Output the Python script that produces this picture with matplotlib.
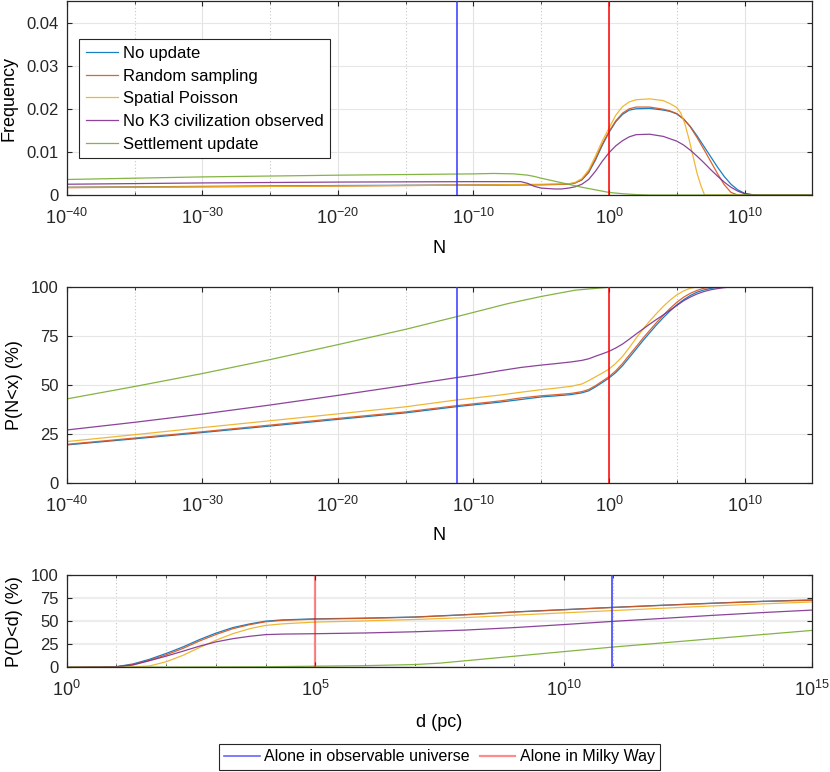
import numpy as np
import matplotlib
matplotlib.use("Agg")
import matplotlib.pyplot as plt
from matplotlib.lines import Line2D
from matplotlib.ticker import FixedLocator, LogFormatterSciNotation, NullFormatter

plt.rcParams["font.family"] = ["Liberation Sans", "DejaVu Sans"]
plt.rcParams["mathtext.default"] = "regular"
plt.rcParams["axes.unicode_minus"] = False

# MATLAB default line colours
C_NOUPD = "#0072BD"
C_RAND = "#D95319"
C_POIS = "#EDB120"
C_K3 = "#7E2F8E"
C_SETT = "#77AC30"

SERIES_NAMES = ["No update", "Random sampling", "Spatial Poisson",
                "No K3 civilization observed", "Settlement update"]

# vertical markers (log10)
ALONE_UNIVERSE_N = -11.2
ALONE_MILKYWAY_N = 0.0
ALONE_MILKYWAY_D = 5.0
ALONE_UNIVERSE_D = 10.97

# -----------------------------
# panel 1: frequency vs log10(N)
# -----------------------------
f_x_noupd = [-40, -30, -20, -10, -5, -3, -2.5, -2, -1.5, -1, -0.5, 0, 0.5, 1, 1.5, 2, 3, 4, 4.5,
             5, 5.5, 6, 6.5, 7, 7.5, 8, 8.5, 9, 9.5, 10, 10.5, 11, 15]
f_y_noupd = [0.0018, 0.0020, 0.0022, 0.0023, 0.0024, 0.0025, 0.0028, 0.0035, 0.0052, 0.0081,
             0.0115, 0.0145, 0.0170, 0.0187, 0.0197, 0.0200, 0.0201, 0.0197, 0.0194, 0.0188,
             0.0176, 0.0159, 0.0137, 0.0113, 0.0089, 0.0065, 0.0043, 0.0025, 0.0012, 0.0004,
             0.0001, 0.0, 0.0]

f_x_rand = [-40, -30, -20, -10, -5, -3, -2.5, -2, -1.5, -1, -0.5, 0, 0.5, 1, 1.5, 2, 3, 4, 4.5,
            5, 5.5, 6, 6.5, 7, 7.5, 8, 8.5, 9, 9.5, 15]
f_y_rand = [0.0017, 0.0019, 0.0021, 0.0023, 0.0024, 0.0025, 0.0028, 0.0036, 0.0054, 0.0084,
            0.0118, 0.0147, 0.0172, 0.0190, 0.0200, 0.0204, 0.0204, 0.0199, 0.0195, 0.0189,
            0.0177, 0.0158, 0.0133, 0.0106, 0.0078, 0.0050, 0.0024, 0.0006, 0.0, 0.0]

f_x_pois = [-40, -30, -20, -10, -5, -3, -2.5, -2, -1.5, -1, -0.5, 0, 0.5, 1, 1.5, 2, 3, 4, 4.5,
            5, 5.3, 5.6, 5.9, 6.2, 6.5, 6.8, 7.05, 15]
f_y_pois = [0.0018, 0.0019, 0.0021, 0.0023, 0.0025, 0.0026, 0.0029, 0.0038, 0.0058, 0.0090,
            0.0125, 0.0155, 0.0185, 0.0205, 0.0216, 0.0221, 0.0223, 0.0219, 0.0212, 0.0203,
            0.0190, 0.0165, 0.0130, 0.0090, 0.0050, 0.0020, 0.0, 0.0]

f_x_k3 = [-40, -30, -20, -10, -6.5, -6, -5.5, -5, -4.5, -4, -3.5, -3, -2.5, -2, -1.5, -1, -0.5,
          0, 0.5, 1, 1.5, 2, 3, 4, 5, 5.5, 6, 6.5, 7, 7.5, 8, 8.5, 9, 9.5, 10, 10.5, 11, 15]
f_y_k3 = [0.0025, 0.0028, 0.0030, 0.0031, 0.0031, 0.0027, 0.0020, 0.0016, 0.0015, 0.0014,
          0.0014, 0.0016, 0.0019, 0.0025, 0.0036, 0.0055, 0.0078, 0.0098, 0.0114, 0.0126,
          0.0135, 0.0140, 0.0141, 0.0136, 0.0125, 0.0116, 0.0104, 0.0090, 0.0075, 0.0059,
          0.0044, 0.0030, 0.0018, 0.0009, 0.0003, 0.0001, 0.0, 0.0]

f_x_sett = [-40, -30, -20, -10, -8.5, -7, -6, -5.5, -5, -4, -3, -2, -1, 0, 1, 2, 3, 15]
f_y_sett = [0.0036, 0.0042, 0.0046, 0.0049, 0.0050, 0.0049, 0.0046, 0.0043, 0.0039, 0.0032,
            0.0025, 0.0018, 0.0012, 0.0006, 0.0003, 0.0001, 0.0, 0.0]

# -----------------------------
# panel 2: P(N<x) in %
# -----------------------------
c_x_noupd = [-40, -35, -30, -25, -20, -15, -11.2, -8, -6.5, -5, -4, -2.8, -2, -1.5, -1, -0.5,
             0, 0.5, 1, 1.5, 2, 2.5, 3, 3.5, 4, 4.5, 5, 5.5, 6, 6.5, 7, 7.5, 8, 8.5, 9, 15]
c_y_noupd = [19.5, 22.6, 25.8, 29.1, 32.5, 35.8, 39.0, 41.3, 42.6, 43.9, 44.4, 45.1, 46.0, 47.0,
             49.0, 51.2, 53.5, 56.3, 59.8, 64.0, 68.2, 72.5, 76.5, 80.5, 84.2, 87.6, 90.7, 93.3,
             95.5, 97.2, 98.3, 99.1, 99.6, 99.9, 100, 100]

c_x_rand = [-40, -35, -30, -25, -20, -15, -11.2, -8, -6.5, -5, -4, -2.8, -2, -1.5, -1, -0.5,
            0, 0.5, 1, 1.5, 2, 2.5, 3, 3.5, 4, 4.5, 5, 5.5, 6, 6.5, 7, 7.5, 8, 15]
c_y_rand = [19.8, 23.0, 26.2, 29.6, 33.0, 36.3, 39.5, 41.9, 43.4, 44.5, 45.0, 45.7, 46.6, 47.7,
            49.6, 51.9, 54.2, 57.2, 60.9, 65.2, 69.4, 73.7, 77.7, 81.7, 85.4, 88.9, 92.0, 94.6,
            96.6, 98.1, 99.2, 99.7, 100, 100]

c_x_pois = [-40, -35, -30, -25, -20, -15, -11.2, -8, -6.5, -5, -4, -2.8, -2, -1.5, -1, -0.5,
            0, 0.5, 1, 1.5, 2, 2.5, 3, 3.5, 4, 4.5, 5, 5.5, 6, 6.5, 7, 15]
c_y_pois = [21.2, 24.7, 28.3, 31.8, 35.3, 38.9, 42.4, 44.9, 46.3, 47.6, 48.3, 49.3, 50.5, 52.2,
            54.1, 56.0, 58.1, 61.0, 64.5, 69.0, 73.8, 78.3, 82.5, 86.3, 89.9, 93.1, 95.8, 97.8,
            99.2, 99.9, 100, 100]

c_x_k3 = [-40, -35, -30, -25, -20, -15, -11.2, -10, -8, -6.5, -5, -4, -2.8, -2, -1.5, -1, -0.5,
          0, 0.5, 1, 1.5, 2, 2.5, 3, 3.5, 4, 4.5, 5, 5.5, 6, 6.5, 7, 7.5, 8, 8.5, 9, 9.5, 15]
c_y_k3 = [27.1, 31.0, 35.2, 39.8, 44.7, 49.8, 53.8, 55.0, 57.3, 58.9, 60.1, 60.8, 61.7, 62.5,
          63.3, 64.6, 65.8, 67.1, 68.8, 70.8, 73.3, 75.9, 78.4, 80.9, 83.3, 85.6, 88.0, 90.4,
          92.8, 94.7, 96.3, 97.5, 98.4, 99.0, 99.5, 99.8, 100, 100]

c_x_sett = [-40, -35, -30, -25, -20, -15, -11.2, -10, -7.5, -5, -2.5, 0, 2, 15]
c_y_sett = [42.9, 49.2, 55.8, 62.9, 70.5, 78.3, 84.8, 86.9, 91.3, 95.0, 98.2, 99.7, 100, 100]

# -----------------------------
# panel 3: P(D<d) in %, log10(d / pc)
# -----------------------------
d_x = [0, 0.66, 1.0, 1.33, 1.66, 2.0, 2.34, 2.67, 3.0, 3.34, 3.68, 4.0, 4.35, 5, 6, 7, 8, 9, 10,
       11, 12, 13, 14, 15]
d_y_noupd = [0, 0.4, 0.7, 3.6, 8.6, 15.0, 22.1, 30.0, 37.0, 43.0, 47.0, 50.0, 51.4, 52.5, 53.3,
             54.5, 57.0, 60.0, 62.5, 65.0, 67.3, 69.5, 71.5, 73.0]
d_y_rand = [0, 0.3, 0.5, 3.0, 7.5, 13.5, 20.5, 28.5, 35.5, 41.8, 46.2, 49.3, 50.9, 52.2, 53.0,
            54.3, 56.8, 59.8, 62.3, 64.8, 67.1, 69.3, 71.3, 72.6]
d_y_pois = [0, 0, 0, 0.4, 1.4, 6.0, 13.0, 21.4, 29.3, 36.4, 41.8, 45.4, 47.1, 49.0, 50.3, 51.8,
            53.8, 56.5, 59.0, 61.5, 64.0, 66.5, 68.7, 70.8]
d_y_k3 = [0, 0.3, 0.6, 2.5, 7.1, 12.1, 17.5, 22.9, 27.5, 31.0, 33.6, 35.4, 36.0, 36.4, 37.2,
          38.5, 40.3, 43.0, 46.3, 49.8, 53.0, 56.3, 59.3, 62.0]
d_x_sett = [0, 2, 4, 5, 6, 7, 7.5, 8, 8.5, 9, 10, 11, 12, 13, 14, 15]
d_y_sett = [0, 0.2, 0.6, 1.2, 1.8, 3.0, 4.5, 7.0, 9.5, 12.0, 17.0, 22.0, 26.5, 31.0, 35.5, 40.0]

FREQ_TICKS = [0, 0.01, 0.02, 0.03, 0.04]
FREQ_LABELS = ["0", "0.01", "0.02", "0.03", "0.04"]
PCT_TICKS = [0, 25, 50, 75, 100]
PCT_LABELS = ["0", "25", "50", "75", "100"]

AX_COLOR = "#262626"
BLUE_V = "#3535ff"
RED_V = "#ff0000"


def style_axes(ax, major, minor, ygrid_lw=0.8, ygrid_col="#e6e6e6"):
    ax.set_xscale("log")
    ax.xaxis.set_major_locator(FixedLocator([10.0 ** e for e in major]))
    ax.xaxis.set_minor_locator(FixedLocator([10.0 ** e for e in minor]))
    ax.xaxis.set_major_formatter(LogFormatterSciNotation())
    ax.xaxis.set_minor_formatter(NullFormatter())
    ax.grid(True, which="major", axis="x", color="#e3e3e3", linewidth=0.8)
    ax.grid(True, which="minor", axis="x", color="#c8c8c8", linewidth=0.8, linestyle=(0, (1, 2)))
    ax.grid(True, which="major", axis="y", color=ygrid_col, linewidth=ygrid_lw)
    ax.set_axisbelow(True)
    for s in ax.spines.values():
        s.set_color(AX_COLOR)
        s.set_linewidth(0.9)
    ax.tick_params(which="both", direction="in", top=True, right=True, colors=AX_COLOR,
                   labelcolor=AX_COLOR)
    ax.tick_params(which="major", length=3.6, width=0.8)
    ax.tick_params(which="minor", length=2.2, width=0.6)
    ax.tick_params(axis="x", pad=9, labelsize=13)
    ax.tick_params(axis="y", pad=6, labelsize=12)


fig = plt.figure(figsize=(8.3, 7.72), dpi=100)
ax1 = fig.add_axes([0.0804, 0.7474, 0.8983, 0.2513])
ax2 = fig.add_axes([0.0804, 0.3740, 0.8983, 0.2547])
ax3 = fig.add_axes([0.0804, 0.1356, 0.8983, 0.1196])

lw = 0.9
col = [C_NOUPD, C_RAND, C_POIS, C_K3, C_SETT]

# ---- panel 1
ax1.set_xscale("log")
top_data = [(f_x_noupd, f_y_noupd), (f_x_rand, f_y_rand), (f_x_pois, f_y_pois),
            (f_x_k3, f_y_k3), (f_x_sett, f_y_sett)]
for (xs, ys), c, name in zip(top_data, col, SERIES_NAMES):
    ax1.plot(10.0 ** np.array(xs), ys, color=c, lw=lw, alpha=0.9, label=name)
ax1.axvline(10.0 ** ALONE_UNIVERSE_N, color=BLUE_V, lw=1.1, zorder=3)
ax1.axvline(10.0 ** ALONE_MILKYWAY_N, color=RED_V, lw=1.1, zorder=3)
ax1.set_xlim(1e-40, 1e15)
ax1.set_ylim(0, 0.045)
style_axes(ax1, range(-40, 11, 10), range(-35, 16, 10))
ax1.set_yticks(FREQ_TICKS, FREQ_LABELS)
ax1.set_xlabel("N", fontsize=13)
ax1.set_ylabel("Frequency", fontsize=13)
ax1.xaxis.set_label_coords(0.5, -0.232)
ax1.yaxis.set_label_coords(-0.066, 0.5)
leg = ax1.legend(loc="upper left", bbox_to_anchor=(0.0169, 0.8026), borderaxespad=0,
                 fontsize=12, frameon=True, fancybox=False, framealpha=1,
                 edgecolor=AX_COLOR, handlelength=1.9, handletextpad=0.3,
                 labelspacing=0.46, borderpad=0.4)
leg.get_frame().set_linewidth(0.8)

# ---- panel 2
ax2.set_xscale("log")
mid_data = [(c_x_noupd, c_y_noupd), (c_x_rand, c_y_rand), (c_x_pois, c_y_pois),
            (c_x_k3, c_y_k3), (c_x_sett, c_y_sett)]
for (xs, ys), c in zip(mid_data, col):
    ax2.plot(10.0 ** np.array(xs), ys, color=c, lw=lw, alpha=0.9)
ax2.axvline(10.0 ** ALONE_UNIVERSE_N, color=BLUE_V, lw=1.1, zorder=3)
ax2.axvline(10.0 ** ALONE_MILKYWAY_N, color=RED_V, lw=1.1, zorder=3)
ax2.set_xlim(1e-40, 1e15)
ax2.set_ylim(0, 100)
style_axes(ax2, range(-40, 11, 10), range(-35, 16, 10))
ax2.set_yticks(PCT_TICKS, PCT_LABELS)
ax2.set_xlabel("N", fontsize=13)
ax2.set_ylabel("P(N<x) (%)", fontsize=13)
ax2.xaxis.set_label_coords(0.5, -0.221)
ax2.yaxis.set_label_coords(-0.059, 0.5)

# ---- panel 3
ax3.set_xscale("log")
bot_data = [(d_x, d_y_noupd), (d_x, d_y_rand), (d_x, d_y_pois), (d_x, d_y_k3),
            (d_x_sett, d_y_sett)]
for (xs, ys), c in zip(bot_data, col):
    ax3.plot(10.0 ** np.array(xs), ys, color=c, lw=lw, alpha=0.9)
ax3.axvline(10.0 ** ALONE_MILKYWAY_D, color=RED_V, lw=1.6, alpha=0.45, zorder=3)
ax3.axvline(10.0 ** ALONE_UNIVERSE_D, color=BLUE_V, lw=1.1, zorder=3)
ax3.set_xlim(1e0, 1e15)
ax3.set_ylim(0, 100)
style_axes(ax3, range(0, 16, 5), [e for e in range(1, 15) if e % 5],
           ygrid_lw=1.6, ygrid_col="#ededed")
ax3.set_yticks(PCT_TICKS, PCT_LABELS)
ax3.set_xlabel("d (pc)", fontsize=13)
ax3.set_ylabel("P(D<d) (%)", fontsize=13)
ax3.xaxis.set_label_coords(0.5, -0.506)
ax3.yaxis.set_label_coords(-0.059, 0.5)

handles = [Line2D([], [], color="#4040ff", lw=1.2, alpha=0.8),
           Line2D([], [], color=RED_V, lw=1.6, alpha=0.45)]
leg2 = fig.legend(handles, ["Alone in observable universe", "Alone in Milky Way"],
                  loc="center", bbox_to_anchor=(0.5295, 0.0198), ncol=2, fontsize=11.5,
                  frameon=True, fancybox=False, framealpha=1, edgecolor=AX_COLOR,
                  handlelength=2.2, handletextpad=0.3, columnspacing=0.6, borderpad=0.35)
leg2.get_frame().set_linewidth(0.8)

fig.savefig("out.png", dpi=100)
